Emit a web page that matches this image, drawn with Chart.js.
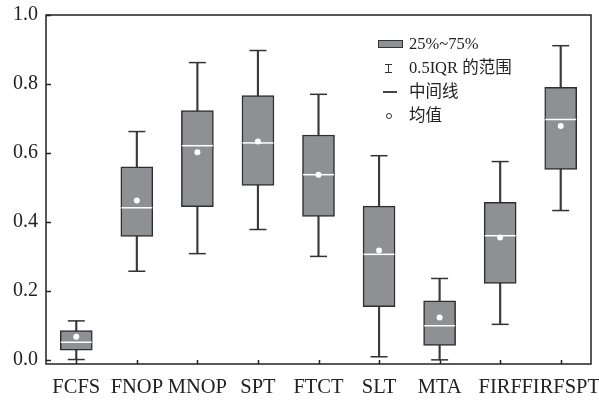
<!DOCTYPE html>
<html>
<head>
<meta charset="utf-8">
<script src="https://cdn.jsdelivr.net/npm/chart.js@4.4.1/dist/chart.umd.min.js"></script>
<style>
  html, body { margin: 0; padding: 0; background: #fff; }
  #wrap { position: relative; width: 599px; height: 400px; }
  #legend {
    position: absolute; left: 376px; top: 32px;
    font-family: "Liberation Serif", "Noto Sans CJK SC", serif;
    font-size: 16.5px; color: #222;
  }
  .row { position: relative; height: 24px; line-height: 24px; padding-left: 33px; white-space: nowrap; }
  .ico { position: absolute; box-sizing: border-box; }
  .ico-box { left: 2px; top: 8px; width: 25px; height: 8px; background: #8f9094; border: 1.5px solid #333; }
  .ico-iqr { left: 9px; top: 8px; width: 7px; height: 9px; border-top: 1.5px solid #333; border-bottom: 1.5px solid #333; }
  .ico-iqr::after { content: ""; position: absolute; left: 2.5px; top: 0; width: 1.5px; height: 100%; background: #333; }
  .ico-med { left: 7px; top: 11px; width: 14px; height: 1.5px; background: #444; }
  .ico-mean { left: 10px; top: 9px; width: 6px; height: 6px; border: 1.2px solid #333; border-radius: 50%; }
</style>
</head>
<body>
<div id="wrap">
  <canvas id="c" width="599" height="400"></canvas>
  <div id="legend">
    <div class="row"><span class="ico ico-box"></span>25%~75%</div>
    <div class="row"><span class="ico ico-iqr"></span>0.5IQR 的范围</div>
    <div class="row"><span class="ico ico-med"></span>中间线</div>
    <div class="row"><span class="ico ico-mean"></span>均值</div>
  </div>
</div>
<script>
// Scheduling rules compared
const categories = ['FCFS', 'FNOP', 'MNOP', 'SPT', 'FTCT', 'SLT', 'MTA', 'FIRF', 'FIRFSPT'];
// Box-plot statistics per rule
const whiskerLow  = [0.001, 0.257, 0.308, 0.378, 0.300, 0.009, 0.000, 0.103, 0.433];
const q1          = [0.028, 0.358, 0.444, 0.506, 0.416, 0.154, 0.042, 0.222, 0.552];
const median      = [0.051, 0.441, 0.621, 0.629, 0.537, 0.306, 0.099, 0.360, 0.697];
const q3          = [0.085, 0.560, 0.723, 0.766, 0.652, 0.446, 0.171, 0.457, 0.790];
const whiskerHigh = [0.113, 0.662, 0.862, 0.897, 0.770, 0.592, 0.236, 0.575, 0.911];
const mean        = [0.067, 0.462, 0.602, 0.633, 0.537, 0.317, 0.123, 0.355, 0.678];
// Y axis tick values
const yTicks = [0.0, 0.2, 0.4, 0.6, 0.8, 1.0];

const AXIS_COLOR = '#222';
const serif = '"Liberation Serif", "Times New Roman", serif';

// Frame around the plot area plus inward-pointing tick marks
const framePlugin = {
  id: 'frame',
  beforeDatasetsDraw(chart) {
    const { ctx, chartArea: a, scales: { x, y } } = chart;
    ctx.save();
    ctx.strokeStyle = AXIS_COLOR;
    ctx.lineWidth = 1.5;
    ctx.strokeRect(a.left, a.top, a.right - a.left, a.bottom - a.top);
    ctx.beginPath();
    y.ticks.forEach((t, i) => {
      const py = Math.round(y.getPixelForTick(i)) + 0.5;
      ctx.moveTo(a.left, py);
      ctx.lineTo(a.left + 5, py);
    });
    x.ticks.forEach((t, i) => {
      const px = Math.round(x.getPixelForTick(i)) + 0.5;
      ctx.moveTo(px, a.bottom);
      ctx.lineTo(px, a.bottom - 4);
    });
    ctx.stroke();
    ctx.restore();
  }
};

const pointSeries = (data, extra) => Object.assign({
  type: 'line',
  data,
  showLine: false,
  pointHoverRadius: 0,
}, extra);

new Chart(document.getElementById('c'), {
  data: {
    labels: categories,
    datasets: [
      {
        type: 'bar',
        label: 'whisker',
        data: categories.map((_, i) => [whiskerLow[i], whiskerHigh[i]]),
        backgroundColor: '#3a3a3a',
        barThickness: 1.5,
        grouped: false,
        order: 5
      },
      {
        type: 'bar',
        label: '25%~75%',
        data: categories.map((_, i) => [q1[i], q3[i]]),
        backgroundColor: '#8f9094',
        borderColor: '#2e2e2e',
        borderWidth: 1.5,
        borderSkipped: false,
        barThickness: 32,
        grouped: false,
        order: 4
      },
      pointSeries(whiskerLow, { label: 'low', pointStyle: 'line', pointRadius: 8.5, pointBorderColor: '#333', pointBorderWidth: 1.5, order: 3 }),
      pointSeries(whiskerHigh, { label: 'high', pointStyle: 'line', pointRadius: 8.5, pointBorderColor: '#333', pointBorderWidth: 1.5, order: 3 }),
      pointSeries(median, { label: '中间线', pointStyle: 'line', pointRadius: 15.5, pointBorderColor: '#ffffff', pointBorderWidth: 1.5, order: 2 }),
      pointSeries(mean, { label: '均值', pointStyle: 'circle', pointRadius: 3, pointBackgroundColor: '#ffffff', pointBorderWidth: 0, order: 1 })
    ]
  },
  options: {
    responsive: false,
    animation: false,
    events: [],
    layout: { autoPadding: false, padding: { top: 15, right: 8, left: 0, bottom: 0 } },
    plugins: { legend: { display: false }, tooltip: { enabled: false } },
    scales: {
      x: {
        type: 'category',
        offset: true,
        grid: { display: false, drawTicks: false },
        border: { display: false },
        ticks: { color: AXIS_COLOR, font: { family: serif, size: 20.5 }, padding: 11, maxRotation: 0, autoSkip: false },
        afterFit(s) { s.height = 36; s.paddingLeft = 0; s.paddingRight = 0; }
      },
      y: {
        type: 'linear',
        min: -0.012,
        max: 1.0,
        afterBuildTicks(s) { s.ticks = yTicks.map(v => ({ value: v })); },
        grid: { display: false, drawTicks: false },
        border: { display: false },
        ticks: { color: AXIS_COLOR, font: { family: serif, size: 20 }, padding: 8, callback: v => Number(v).toFixed(1) },
        afterFit(s) { s.width = 46; s.paddingTop = 0; s.paddingBottom = 0; }
      }
    }
  },
  plugins: [framePlugin]
});
</script>
</body>
</html>
